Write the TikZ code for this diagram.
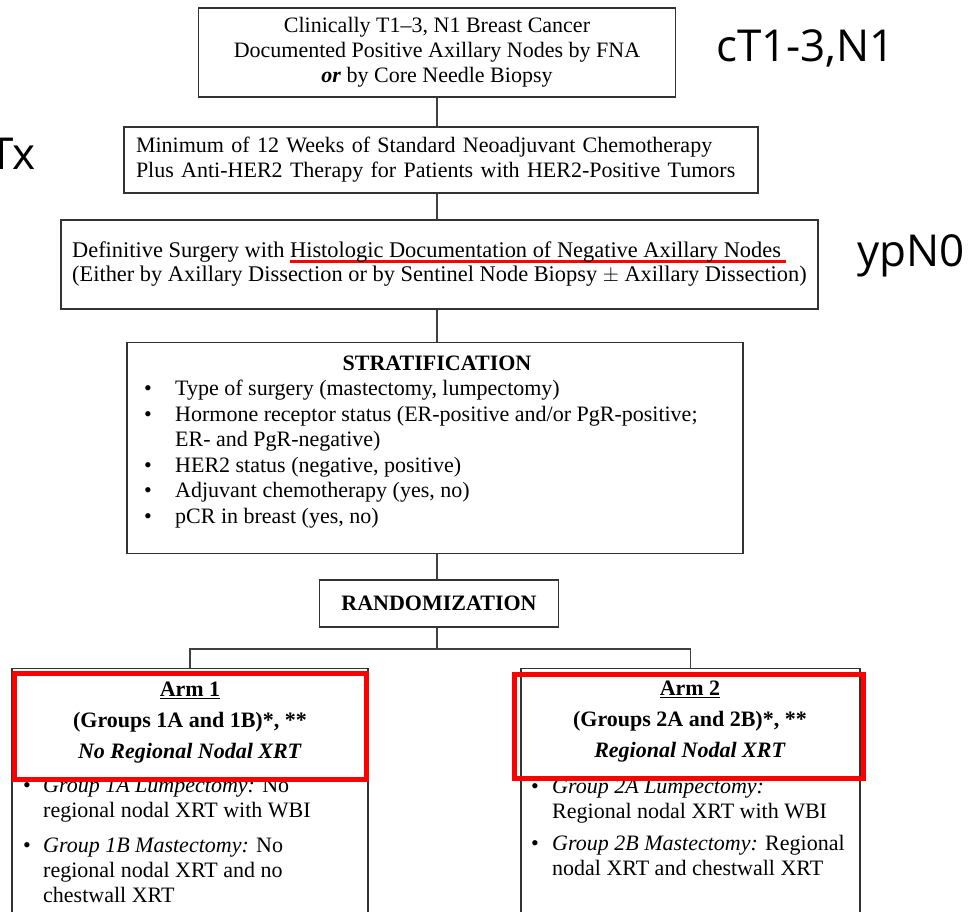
\documentclass[tikz,border=0pt]{standalone}
\usepackage{fontspec}
\setmainfont{Liberation Serif}
\newfontfamily\stagefont{Open Sans}
\usetikzlibrary{positioning}
% červené podtržení
\newcommand{\redul}[1]{\setbox0\hbox{#1}\rlap{\color{red}\rule[-5pt]{\dimexpr\wd0+5pt\relax}{3pt}}\box0}

\begin{document}
\begin{tikzpicture}[x=1pt,y=-1pt,
    every node/.style={font=\fontsize{22}{25}\selectfont},
    box/.style={draw=black!80, line width=1.1pt, inner sep=0pt},
    conn/.style={draw=black!75, line width=1.1pt},
    stage/.style={font=\stagefont\fontsize{44}{48}\selectfont, inner sep=0pt},
    hilite/.style={draw=red, line width=5pt}]
    \useasboundingbox (0,0) rectangle (970,912);

    % rámečky
    \node[box, minimum width=477, minimum height=89, align=center] (dx) at (437,52.5)
        {Clinically T1--3, N1 Breast Cancer\\
         Documented Positive Axillary Nodes by FNA\\
         \textbf{\textit{or}} by Core Needle Biopsy};
    \node[box, minimum width=634, minimum height=66, text width=610, align=left] (chemo) at (441,160)
        {Minimum of 12 Weeks of Standard Neoadjuvant Chemotherapy\\
         Plus Anti-HER2 Therapy for Patients with HER2-Positive Tumors};
    \node[box, minimum width=757, minimum height=89, align=left,
          font=\fontsize{22.4}{24}\selectfont] (surg) at (439.5,264.5)
        {Definitive Surgery with \redul{Histologic Documentation of Negative Axillary Nodes}\\
         (Either by Axillary Dissection or by Sentinel Node Biopsy $\pm$ Axillary Dissection)};
    \node[box, minimum width=616, minimum height=211, anchor=north] (strat) at (435,342) {};
    \node[font=\fontsize{22}{25}\selectfont\bfseries] (strathead) at (437,363) {STRATIFICATION};
    \node[anchor=north west, align=left, inner sep=0pt, font=\fontsize{22}{25.5}\selectfont]
        (stratlist) at (144,380)
        {\makebox[31pt][l]{\textbullet}Type of surgery (mastectomy, lumpectomy)\\
         \makebox[31pt][l]{\textbullet}Hormone receptor status (ER-positive and/or PgR-positive;\\
         \hspace*{31pt}ER- and PgR-negative)\\
         \makebox[31pt][l]{\textbullet}HER2 status (negative, positive)\\
         \makebox[31pt][l]{\textbullet}Adjuvant chemotherapy (yes, no)\\
         \makebox[31pt][l]{\textbullet}pCR in breast (yes, no)};
    \node[box, minimum width=239, minimum height=47, font=\fontsize{22}{25}\selectfont\bfseries]
        (rand) at (439,603.5) {RANDOMIZATION};

    % ramena
    \node[box, minimum width=356, minimum height=280, anchor=north] (arm1) at (190,668) {};
    \node[box, minimum width=339, minimum height=280, anchor=north] (arm2) at (690.5,668) {};
    \node[align=center, font=\fontsize{22}{31}\selectfont\bfseries] (arm1head) at (190,723)
        {\underline{Arm 1}\\(Groups 1A and 1B)*, **\\\textit{No Regional Nodal XRT}};
    \node[align=center, font=\fontsize{22}{31}\selectfont\bfseries] (arm2head) at (690,722)
        {\underline{Arm 2}\\(Groups 2A and 2B)*, **\\\textit{Regional Nodal XRT}};
    \node[anchor=north west, align=left, inner sep=0pt] (arm1list) at (23,778)
        {\makebox[20pt][l]{\textbullet}\textit{Group 1A Lumpectomy:} No\\
         \hspace*{20pt}regional nodal XRT with WBI\\[10pt]
         \makebox[20pt][l]{\textbullet}\textit{Group 1B Mastectomy:} No\\
         \hspace*{20pt}regional nodal XRT and no\\
         \hspace*{20pt}chestwall XRT};
    \node[anchor=north west, align=left, inner sep=0pt] (arm2list) at (531,779)
        {\makebox[21pt][l]{\textbullet}\textit{Group 2A Lumpectomy:}\\
         \hspace*{21pt}Regional nodal XRT with WBI\\[7pt]
         \makebox[21pt][l]{\textbullet}\textit{Group 2B Mastectomy:} Regional\\
         \hspace*{21pt}nodal XRT and chestwall XRT};

    % spojnice
    \coordinate (fork) at (437,649);
    \draw[conn] (dx.south) -- (dx.south |- chemo.north);
    \draw[conn] (dx.south |- chemo.south) -- (dx.south |- surg.north);
    \draw[conn] (dx.south |- surg.south) -- (dx.south |- strat.north);
    \draw[conn] (dx.south |- strat.south) -- (dx.south |- rand.north);
    \draw[conn] (dx.south |- rand.south) -- (fork);
    \draw[conn] (arm1.north) |- (fork) -| (arm2.north);

    % zvýraznění
    \draw[hilite] (14,673) rectangle (366,779);
    \draw[hilite] (514,674) rectangle (863,778);

    % stadia
    \node[stage, anchor=base west] (cstage) at (716,62) {cT1-3,N1};
    \node[stage, anchor=base east] (tx) at (36,170) {Tx};
    \node[stage, anchor=base west] (ypn) at (857,267) {ypN0};
\end{tikzpicture}
\end{document}
